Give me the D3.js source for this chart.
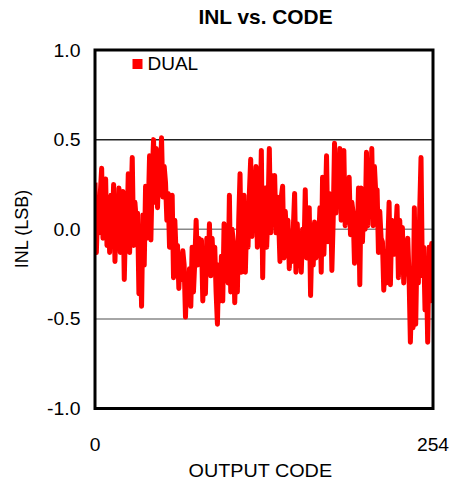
<!DOCTYPE html>
<html><head><meta charset="utf-8">
<script src="https://cdn.jsdelivr.net/npm/d3@7"></script>
<style>html,body{margin:0;padding:0;background:#fff}svg{display:block}</style>
</head><body>
<svg id="chart" width="454" height="482"></svg>
<script>
const title = "INL vs. CODE";
const xTitle = "OUTPUT CODE";
const yTitle = "INL (LSB)";
const seriesName = "DUAL";
const xTickValues = [0, 254];
const yTickValues = [-1.0, -0.5, 0.0, 0.5, 1.0];
const inl = [
 0.26,-0.13,0.10,-0.02, 0.20,0.34,-0.05,0.22, 0.28,-0.09,0.15, -0.13,0.19,0.02,
 0.25,-0.18,0.10, -0.05,0.23,-0.13,0.12, 0.21,-0.28,0.05, -0.02,0.31,-0.13,0.12,
 0.40,-0.09,0.15,0.05, 0.09,-0.36,-0.05, -0.43,0.08,-0.20, 0.24,-0.05,
 0.10,0.41,-0.06,0.30, 0.50,0.15,0.45, 0.12,0.40,0.25,0.51,0.18,0.35,
 0.26,0.05,0.20,-0.10,0.10, 0.19,-0.27,0.05,-0.15, -0.09,-0.33,-0.15,-0.28,-0.12,
 -0.20,-0.49,-0.25,-0.40,-0.22, -0.43,-0.10,-0.35,-0.18, 0.05,-0.20,-0.05,-0.15,
 -0.06,-0.40,-0.15, -0.36,-0.05,-0.25, 0.03,-0.26,-0.05,-0.20,
 -0.10,-0.35,-0.53,-0.20,-0.40,-0.15, -0.40,0.03,-0.25,-0.05,-0.30,
 0.19,-0.35,0.00, -0.07,-0.41,-0.15,-0.35, 0.05,0.31,-0.24,0.10, 0.19,-0.24,0.05,-0.10,
 0.20,0.39,-0.04,0.30, 0.10,0.35,-0.10,0.25,0.05, 0.44,-0.27,0.20, 0.23,-0.10,0.10,
 0.45,-0.02,0.30,0.10, 0.30,-0.02,0.18,0.05, -0.18,0.18, 0.24,-0.16,0.10,-0.05,
 0.05,-0.22,-0.05,-0.18,0.00, 0.20,-0.24, 0.03,-0.20,-0.05,-0.24,0.00,-0.15,
 0.22,-0.16,0.10, 0.12,-0.37,-0.05,-0.20, 0.04,-0.16,0.00,-0.10, 0.12,-0.24,
 0.29,-0.14,0.10, 0.41,-0.07,0.20, 0.19,-0.23,0.05, 0.48,0.09,0.40,0.20,
 0.45,0.05,0.30,0.44,0.02,0.25,0.15, 0.29,-0.03,0.15, 0.09,-0.19,0.00,-0.12,
 0.23,-0.31, 0.23,-0.07,0.15,0.00, 0.43,0.02,0.30, 0.10,0.45,0.02,0.35,0.20,
 0.22,-0.13,0.10,-0.05, -0.07,-0.34,-0.15,-0.30,-0.10, 0.15,-0.31,0.05,
 0.04,-0.14,-0.02, 0.13,-0.27,0.05,-0.15, 0.01,-0.30,-0.10,-0.25,-0.05,
 -0.26,-0.63,-0.35,-0.55, 0.12,-0.53,-0.10,-0.30, 0.10,0.40,-0.26,
 -0.10,-0.45,-0.20, -0.63,-0.10,-0.40, -0.08,-0.09
];
const codes = inl.map((v, i) => i);

const svg = d3.select("#chart");
const L = 95, R = 433, T = 50, B = 408.5;
const x = d3.scaleLinear().domain([0, 254]).range([L, R]);
const y = d3.scaleLinear().domain([-1, 1]).range([B, T]);
const font = "'Liberation Sans', Arial, sans-serif";

function stext(px, py, str, opts) {
  const g = svg.append("g").attr("transform", `translate(${px},${py}) scale(${opts.sx || 1},1)` + (opts.rot ? ` rotate(${opts.rot})` : ""));
  g.append("text").attr("x", 0).attr("y", 0)
    .attr("text-anchor", opts.anchor || "middle")
    .attr("font-family", font).attr("font-size", opts.size)
    .attr("font-weight", opts.bold ? "bold" : "normal")
    .attr("fill", "#000").text(str);
}

// gridlines
[0.5, 0.0, -0.5].forEach(v => {
  svg.append("line").attr("x1", L).attr("x2", R).attr("y1", y(v)).attr("y2", y(v))
    .attr("stroke", v === 0.5 ? "#222" : "#888").attr("stroke-width", 1.5);
});

svg.append("clipPath").attr("id", "clip").append("rect")
  .attr("x", L).attr("y", T).attr("width", R - L).attr("height", B - T);

const line = d3.line().x((d, i) => x(codes[i])).y(d => y(d));
svg.append("path").datum(inl).attr("d", line).attr("clip-path", "url(#clip)")
  .attr("fill", "none").attr("stroke", "#ff0000").attr("stroke-width", 5)
  .attr("stroke-linejoin", "round");

// frame
svg.append("rect").attr("x", L).attr("y", T).attr("width", R - L).attr("height", B - T)
  .attr("fill", "none").attr("stroke", "#000").attr("stroke-width", 3);

const fmt = v => d3.format(".1f")(v).replace("\u2212", "-");
// y ticks
yTickValues.forEach(v => stext(80.5, y(v) + 6.5, fmt(v), {size: 18, sx: 1.08, anchor: "end"}));
// x ticks
xTickValues.forEach(v => stext(x(v), 451, String(v), {size: 17.5, sx: 1.1}));

stext(265.5, 24, title, {size: 19.5, sx: 1.07, bold: true});
stext(260.3, 476.5, xTitle, {size: 18.5, sx: 1.07});
stext(28, 229, yTitle, {size: 18, sx: 1, rot: -90});

// legend
svg.append("rect").attr("x", 132.5).attr("y", 59).attr("width", 10).attr("height", 10).attr("fill", "#ff0000");
stext(147.5, 69.5, seriesName, {size: 19, sx: 1.0, anchor: "start"});
</script>
</body></html>
